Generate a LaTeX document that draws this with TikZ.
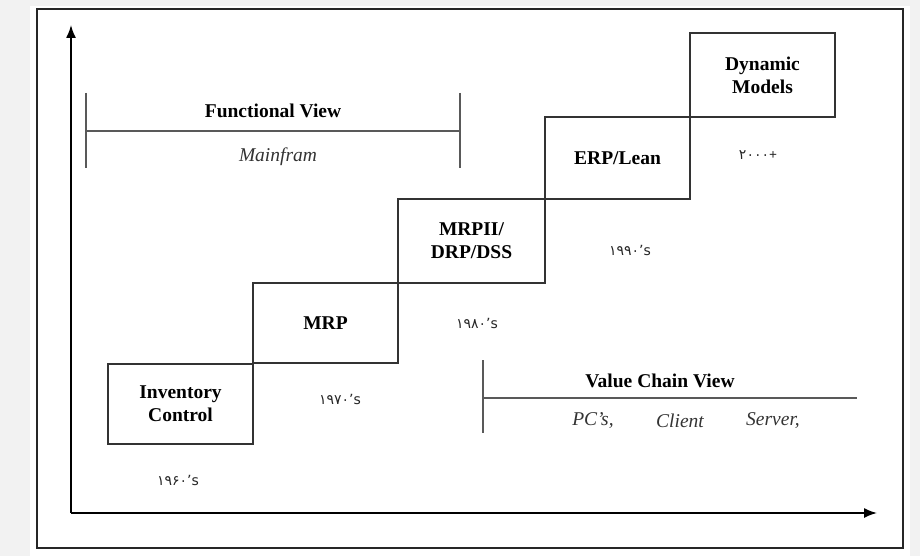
\documentclass[tikz,border=0pt]{standalone}
\usepackage{fontspec}
\setmainfont{Liberation Serif}
\newfontfamily\arabicfont[Script=Arabic]{DejaVu Sans}
\usepackage{tikz}
\usetikzlibrary{arrows.meta,positioning}

\begin{document}
\begin{tikzpicture}[x=1pt,y=-1pt,
  era/.style={draw=black!80,line width=1.4pt,align=center,minimum width=145pt,minimum height=82pt,inner sep=0pt,font=\fontsize{19.5}{23}\selectfont\bfseries},
  decade/.style={font=\arabicfont\fontsize{14}{16}\selectfont,text=black!85},
  viewtitle/.style={font=\fontsize{19.5}{23}\selectfont\bfseries},
  viewitem/.style={font=\fontsize{19.5}{23}\selectfont\itshape,text=black!80},
  bar/.style={draw=black!65,line width=1.3pt},
  axis/.style={draw,-{Latex[length=13pt,width=10pt]},line width=1.7pt}
]
\useasboundingbox (0,0) rectangle (920,556);
\fill[black!5] (0,0) rectangle (920,556);
\fill[white] (30,6) rectangle (910,556);
\draw[line width=2.2pt,black!85] (37,9) rectangle (903,548);
% axes
\coordinate (origin) at (71,513);
\coordinate (ytop) at (71,25);
\coordinate (xend) at (877,513);
\draw[axis] (origin) -- (ytop);
\draw[axis] (origin) -- (xend);
% staircase of systems
\node[era,minimum height=80pt] (inv) at (180.5,404) {Inventory\\Control};
\node[era,minimum height=80pt] (mrp) at (325.5,323) {MRP};
\node[era,minimum width=147pt,minimum height=84pt] (mrpii) at (471.5,241) {MRPII/\\DRP/DSS};
\node[era] (erp) at (617.5,158) {ERP/Lean};
\node[era,minimum height=84pt] (dyn) at (762.5,75) {Dynamic\\Models};
\node[decade] (d60) at (178,480) {۱۹۶۰’s};
\node[decade] (d70) at (340,399) {۱۹۷۰’s};
\node[decade] (d80) at (477,323) {۱۹۸۰’s};
\node[decade] (d90) at (630,250) {۱۹۹۰’s};
\node[decade] (d00) at (758,155) {۲۰۰۰{\normalfont\bfseries+}};
% functional view
\coordinate (fvlt) at (86,93);
\coordinate (fvlb) at (86,168);
\coordinate (fvrt) at (460,93);
\coordinate (fvrb) at (460,168);
\coordinate (fvl) at (86,131);
\coordinate (fvr) at (460,131);
\draw[bar] (fvlt) -- (fvlb);
\draw[bar] (fvrt) -- (fvrb);
\draw[bar] (fvl) -- (fvr);
\node[viewtitle] (fv) at (273,111) {Functional View};
\node[viewitem] (mainfram) at (278,157) {Mainfram};
% value chain view
\coordinate (vcvt) at (483,360);
\coordinate (vcvb) at (483,433);
\coordinate (vcvl) at (483,398);
\coordinate (vcvr) at (857,398);
\draw[bar] (vcvt) -- (vcvb);
\draw[bar] (vcvl) -- (vcvr);
\node[viewtitle] (vcv) at (660,381) {Value Chain View};
\node[viewitem] (pcs) at (593,421) {PC’s,};
\node[viewitem] (client) at (680,421) {Client};
\node[viewitem] (server) at (773,421) {Server,};
\end{tikzpicture}
\end{document}
